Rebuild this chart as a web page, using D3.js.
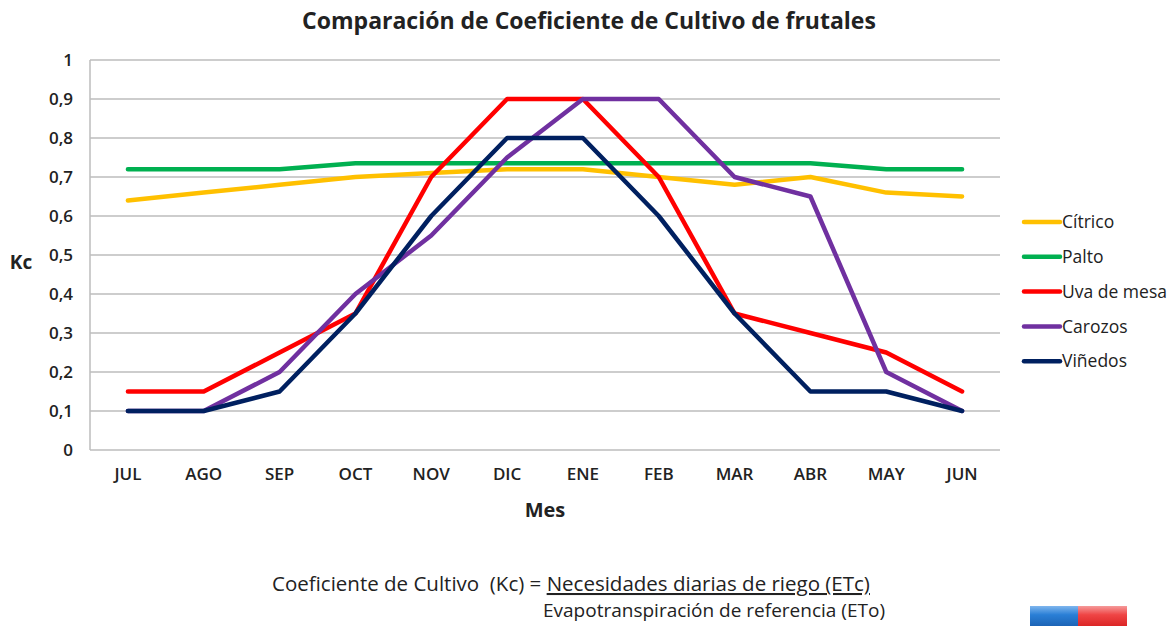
<!DOCTYPE html>
<html>
<head>
<meta charset="utf-8">
<script src="https://cdn.jsdelivr.net/npm/d3@7"></script>
<style>
  body { margin: 0; background: #fff; }
  svg text { font-family: "Open Sans", Lato, sans-serif; fill: #222; }
</style>
</head>
<body>
<svg id="chart"></svg>
<script>
const months = ["JUL", "AGO", "SEP", "OCT", "NOV", "DIC", "ENE", "FEB", "MAR", "ABR", "MAY", "JUN"];
const seriesNames = ["Cítrico", "Palto", "Uva de mesa", "Carozos", "Viñedos"];
const citrico = [0.64, 0.66, 0.68, 0.70, 0.71, 0.72, 0.72, 0.70, 0.68, 0.70, 0.66, 0.65];
const palto = [0.72, 0.72, 0.72, 0.735, 0.735, 0.735, 0.735, 0.735, 0.735, 0.735, 0.72, 0.72];
const uva = [0.15, 0.15, 0.25, 0.35, 0.70, 0.90, 0.90, 0.70, 0.35, 0.30, 0.25, 0.15];
const carozos = [0.10, 0.10, 0.20, 0.40, 0.55, 0.75, 0.90, 0.90, 0.70, 0.65, 0.20, 0.10];
const vinedos = [0.10, 0.10, 0.15, 0.35, 0.60, 0.80, 0.80, 0.60, 0.35, 0.15, 0.15, 0.10];
const yTicks = [0, 0.1, 0.2, 0.3, 0.4, 0.5, 0.6, 0.7, 0.8, 0.9, 1];

const colors = ["#FFC000", "#00B050", "#FF0000", "#7030A0", "#002060"];

const width = 1175;
const height = 626;

const svg = d3.select("#chart")
  .attr("width", width)
  .attr("height", height);

const x = d3.scaleBand()
  .domain(months)
  .range([90, 1000]);

const y = d3.scaleLinear()
  .domain([0, 1])
  .range([450, 60]);

// grid lines
svg.append("g")
  .selectAll("line")
  .data(yTicks)
  .join("line")
  .attr("x1", 90)
  .attr("x2", 1000)
  .attr("y1", d => y(d))
  .attr("y2", d => y(d))
  .attr("stroke", "#bdbdbd")
  .attr("stroke-width", 1.5);

svg.append("line")
  .attr("x1", 90).attr("x2", 90)
  .attr("y1", y(0)).attr("y2", y(1))
  .attr("stroke", "#bdbdbd")
  .attr("stroke-width", 1.5);

const fmt = d => d3.format("~g")(d).replace(".", ",");

const yAxis = d3.axisLeft(y)
  .tickValues(yTicks)
  .tickFormat(fmt)
  .tickSize(0)
  .tickPadding(17);

svg.append("g")
  .attr("transform", "translate(90,0)")
  .call(yAxis)
  .call(g => g.select(".domain").remove())
  .selectAll("text")
  .attr("font-family", "'Open Sans', sans-serif")
  .attr("font-size", 17)
  .attr("font-weight", 600)
  .attr("fill", "#333");

const xAxis = d3.axisBottom(x).tickSize(0).tickPadding(18);

svg.append("g")
  .attr("transform", "translate(0,450)")
  .call(xAxis)
  .call(g => g.select(".domain").remove())
  .selectAll("text")
  .attr("font-family", "'Open Sans', sans-serif")
  .attr("font-size", 17)
  .attr("font-weight", 600)
  .attr("fill", "#333");

const allSeries = [citrico, palto, uva, carozos, vinedos];

const line = d3.line()
  .x((d, i) => x(months[i]) + x.bandwidth() / 2)
  .y(d => y(d));

svg.append("g")
  .selectAll("path")
  .data(allSeries)
  .join("path")
  .attr("d", line)
  .attr("fill", "none")
  .attr("stroke", (d, i) => colors[i])
  .attr("stroke-width", 4.5)
  .attr("stroke-linejoin", "round")
  .attr("stroke-linecap", "round");

// legend
const legend = svg.append("g")
  .selectAll("g")
  .data(seriesNames)
  .join("g")
  .attr("transform", (d, i) => `translate(1024, ${222 + i * 34.8})`);

legend.append("line")
  .attr("x1", 0).attr("x2", 36)
  .attr("stroke", (d, i) => colors[i])
  .attr("stroke-width", 4.5)
  .attr("stroke-linecap", "round");

legend.append("text")
  .attr("x", 38)
  .attr("dy", "0.35em")
  .attr("font-size", 17.5)
  .text(d => d);

// titles
svg.append("text")
  .attr("x", 589)
  .attr("y", 29)
  .attr("text-anchor", "middle")
  .attr("font-size", 23)
  .attr("font-weight", "bold")
  .text("Comparación de Coeficiente de Cultivo de frutales");

svg.append("text")
  .attr("x", 21)
  .attr("y", 269)
  .attr("text-anchor", "middle")
  .attr("font-size", 19)
  .attr("font-weight", "bold")
  .text("Kc");

svg.append("text")
  .attr("x", 545)
  .attr("y", 517)
  .attr("text-anchor", "middle")
  .attr("font-size", 20)
  .attr("font-weight", "bold")
  .text("Mes");

// formula
const formula = svg.append("text")
  .attr("x", 272)
  .attr("y", 591)
  .attr("font-size", 20.5)
  .attr("xml:space", "preserve");
formula.append("tspan").text("Coeficiente de Cultivo  (Kc) = ");
formula.append("tspan").text("Necesidades diarias de riego (ETc)").attr("text-decoration", "underline");

svg.append("text")
  .attr("x", 543)
  .attr("y", 617)
  .attr("font-size", 19)
  .text("Evapotranspiración de referencia (ETo)");

// small flag icon
const flagDefs = svg.append("defs");
const gB = flagDefs.append("linearGradient").attr("id", "gb").attr("x1", 0).attr("y1", 0).attr("x2", 0).attr("y2", 1);
gB.append("stop").attr("offset", "0%").attr("stop-color", "#7fb6ee");
gB.append("stop").attr("offset", "40%").attr("stop-color", "#2a7fd6");
gB.append("stop").attr("offset", "100%").attr("stop-color", "#1a5fb0");
const gR = flagDefs.append("linearGradient").attr("id", "gr").attr("x1", 0).attr("y1", 0).attr("x2", 0).attr("y2", 1);
gR.append("stop").attr("offset", "0%").attr("stop-color", "#f59a9a");
gR.append("stop").attr("offset", "40%").attr("stop-color", "#ef4545");
gR.append("stop").attr("offset", "100%").attr("stop-color", "#d82020");

svg.append("rect").attr("x", 1030).attr("y", 606).attr("width", 48).attr("height", 22).attr("fill", "url(#gb)");
svg.append("rect").attr("x", 1078).attr("y", 606).attr("width", 49).attr("height", 22).attr("fill", "url(#gr)");
</script>
</body>
</html>
